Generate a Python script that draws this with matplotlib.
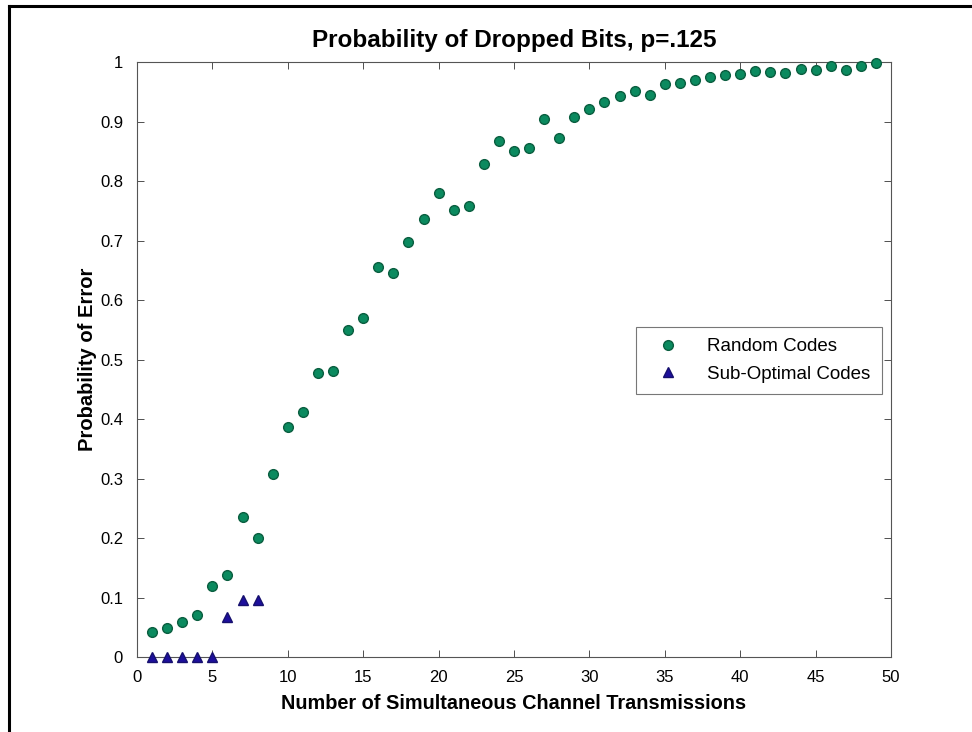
import numpy as np
import matplotlib
matplotlib.use("Agg")
import matplotlib.pyplot as plt
from matplotlib.lines import Line2D

plt.rcParams['font.family'] = ['Liberation Sans', 'DejaVu Sans']

# Data
rand_x = list(range(1, 50))
rand_y = [0.042, 0.048, 0.058, 0.071, 0.120, 0.138, 0.235, 0.200, 0.307, 0.387,
          0.412, 0.478, 0.481, 0.550, 0.569, 0.655, 0.645, 0.697, 0.736, 0.779,
          0.752, 0.758, 0.829, 0.868, 0.850, 0.856, 0.904, 0.872, 0.907, 0.921,
          0.933, 0.943, 0.951, 0.945, 0.963, 0.965, 0.970, 0.975, 0.978, 0.980,
          0.985, 0.983, 0.982, 0.988, 0.986, 0.994, 0.987, 0.993, 0.999]
sub_x = [1, 2, 3, 4, 5, 6, 7, 8]
sub_y = [0.0, 0.0, 0.0, 0.0, 0.0, 0.068, 0.096, 0.096]

xticks = list(range(0, 51, 5))
yticks = [0, 0.1, 0.2, 0.3, 0.4, 0.5, 0.6, 0.7, 0.8, 0.9, 1]
ytick_labels = ['0', '0.1', '0.2', '0.3', '0.4', '0.5', '0.6', '0.7', '0.8', '0.9', '1']

fig = plt.figure(figsize=(9.72, 7.32), dpi=100)
ax = fig.add_axes([137/972, 1 - 657/732, 754/972, 595/732])

green = '#0b8a5f'
blue = '#1d0f9c'

ax.plot(rand_x, rand_y, 'o', color=green, markeredgecolor='#0a5e40', markersize=7,
        markeredgewidth=1.0, label='Random Codes', clip_on=False, zorder=3)
ax.plot(sub_x, sub_y, '^', color=blue, markeredgecolor='#16106e', markersize=7.5,
        label='Sub-Optimal Codes', clip_on=False, zorder=3)

ax.set_xlim(0, 50)
ax.set_ylim(0, 1)
ax.set_xticks(xticks)
ax.set_yticks(yticks)
ax.set_yticklabels(ytick_labels)
ax.tick_params(axis='both', which='both', direction='in', length=5, width=0.6,
               labelsize=12, top=True, right=True, colors='#333333', labelcolor='black')
ax.tick_params(axis='x', pad=9)
ax.tick_params(axis='y', pad=10)
for s in ax.spines.values():
    s.set_linewidth(0.8)
    s.set_color('#555555')

ax.set_title('Probability of Dropped Bits, p=.125', fontsize=17.5, fontweight='bold', pad=11)
ax.set_xlabel('Number of Simultaneous Channel Transmissions', fontsize=14.3, fontweight='bold', labelpad=7)
ax.set_ylabel('Probability of Error', fontsize=14.5, fontweight='bold', labelpad=2)

leg = ax.legend(loc='upper left', bbox_to_anchor=((636-137)/754, (657-327)/595),
                borderaxespad=0, fontsize=13.5, frameon=True, fancybox=False, edgecolor='#555555',
                borderpad=0.6, handletextpad=1.0, labelspacing=0.55, handlelength=2.2)
leg.get_frame().set_linewidth(0.8)

# Outer frame (left and top only, as in the reference)
fig.add_artist(Line2D([9/972, 9/972], [0, 1 - 6/732], transform=fig.transFigure, color='black', lw=2.2))
fig.add_artist(Line2D([9/972, 1], [1 - 6/732, 1 - 6/732], transform=fig.transFigure, color='black', lw=2.2))

fig.savefig('out.png', dpi=100)
